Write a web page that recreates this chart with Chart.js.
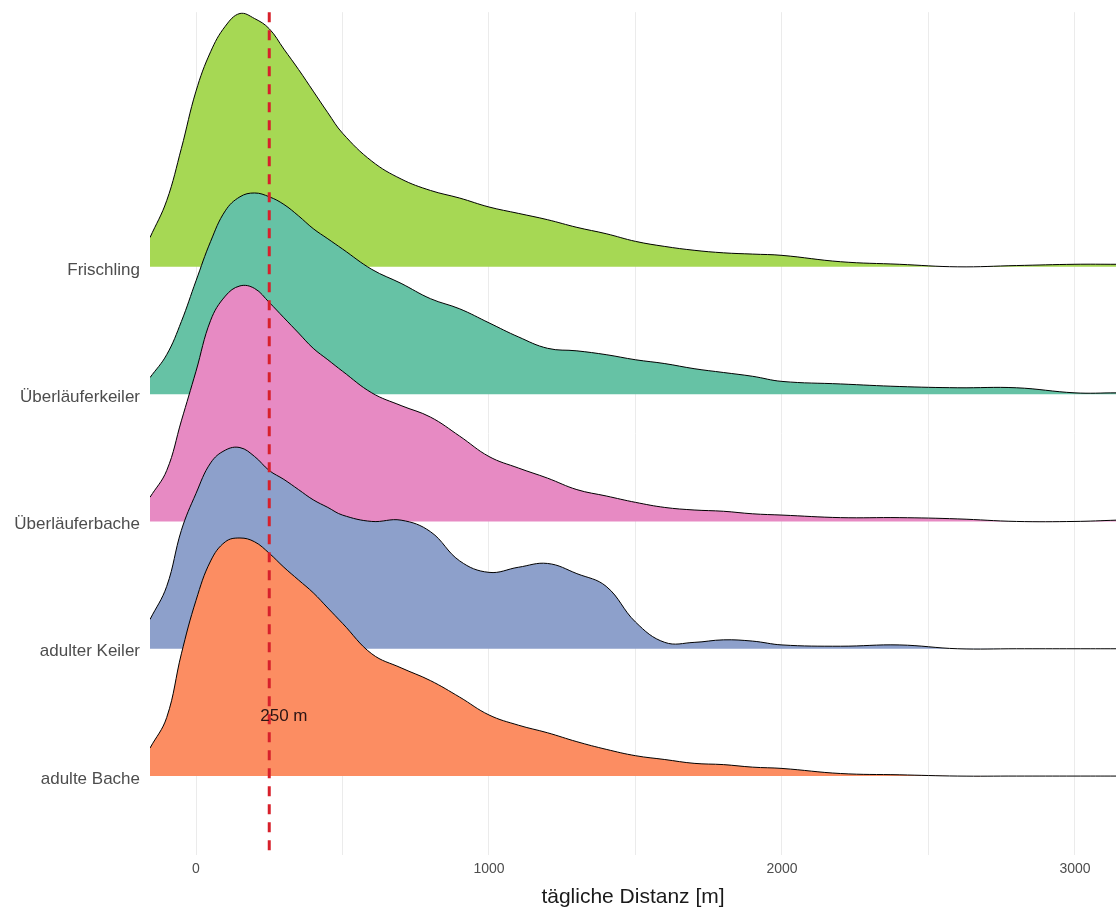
<!DOCTYPE html>
<html>
<head>
<meta charset="utf-8">
<title>tägliche Distanz</title>
<script src="https://cdn.jsdelivr.net/npm/chart.js@4.4.1/dist/chart.umd.min.js"></script>
<style>
    html, body { margin: 0; padding: 0; background: #ffffff; }
</style>
</head>
<body>
<canvas id="chart" width="1116" height="911"></canvas>
<script>
// x grid of the density estimates (m)
var distances = [-157, -100, -50, 0, 50, 100, 150, 200, 250, 300, 350, 400, 450, 500, 600, 700, 800, 900,
    1000, 1100, 1200, 1300, 1400, 1500, 1600, 1700, 1800, 1900, 2000, 2200, 2400, 2600, 2800, 3000, 3140];

// groups from the bottom row to the top row
var groups = ['adulte Bache', 'adulter Keiler', 'Überläuferbache', 'Überläuferkeiler', 'Frischling'];
var groupColors = ['#fc8d62', '#8da0cb', '#e78ac3', '#66c2a5', '#a6d854'];

// scaled densities (1 = one row height)
var densAdulteBache = [0.22, 0.46, 0.96, 1.38, 1.69, 1.84, 1.87, 1.84, 1.75, 1.64, 1.54, 1.44, 1.32, 1.20, 0.96, 0.85, 0.75, 0.62,
    0.48, 0.40, 0.34, 0.27, 0.21, 0.16, 0.13, 0.10, 0.09, 0.07, 0.06, 0.02, 0.01, 0, 0, 0, 0];
var densAdulterKeiler = [0.23, 0.49, 0.93, 1.22, 1.46, 1.56, 1.58, 1.51, 1.40, 1.33, 1.25, 1.17, 1.11, 1.05, 1.00, 1.01, 0.92, 0.69,
    0.60, 0.64, 0.67, 0.59, 0.49, 0.21, 0.05, 0.05, 0.07, 0.06, 0.03, 0.02, 0.03, 0, 0, 0, 0];
var densUeberlaeuferbache = [0.19, 0.40, 0.79, 1.18, 1.58, 1.77, 1.85, 1.83, 1.72, 1.60, 1.48, 1.36, 1.27, 1.18, 1.01, 0.91, 0.82, 0.67,
    0.51, 0.42, 0.34, 0.25, 0.20, 0.15, 0.11, 0.09, 0.08, 0.06, 0.05, 0.03, 0.03, 0.02, 0, 0, 0.01];
var densUeberlaeuferkeiler = [0.13, 0.31, 0.57, 0.89, 1.20, 1.44, 1.55, 1.58, 1.55, 1.49, 1.40, 1.30, 1.22, 1.14, 0.98, 0.87, 0.75, 0.67,
    0.56, 0.45, 0.36, 0.34, 0.31, 0.27, 0.24, 0.20, 0.17, 0.14, 0.10, 0.08, 0.06, 0.05, 0.05, 0.01, 0.01];
var densFrischling = [0.23, 0.52, 0.93, 1.38, 1.69, 1.89, 1.99, 1.95, 1.87, 1.71, 1.55, 1.38, 1.21, 1.05, 0.83, 0.69, 0.60, 0.54,
    0.47, 0.42, 0.37, 0.31, 0.26, 0.20, 0.16, 0.13, 0.11, 0.10, 0.09, 0.04, 0.02, 0, 0.01, 0.02, 0.02];

var densities = [densAdulteBache, densAdulterKeiler, densUeberlaeuferbache, densUeberlaeuferkeiler, densFrischling];

var xTickLabels = [0, 1000, 2000, 3000];
var xGridBreaks = [0, 500, 1000, 1500, 2000, 2500, 3000];

var threshold = 250;
var thresholdLabel = '250 m';

var FONT = '"Liberation Sans", Arial, sans-serif';

// each ridge sits on its own row: y = row index + density
var datasets = groups.map(function (name, row) {
    return {
        label: name,
        data: distances.map(function (d, i) {
            return { x: d, y: row + densities[row][i] };
        }),
        backgroundColor: groupColors[row],
        borderColor: '#000000',
        borderWidth: 1,
        pointRadius: 0,
        tension: 0.4,
        fill: { value: row }
    };
});

// dashed threshold line plus its label
var thresholdPlugin = {
    id: 'threshold',
    afterDatasetsDraw: function (chart) {
        var ctx = chart.ctx,
            area = chart.chartArea,
            xs = chart.scales.x,
            ys = chart.scales.y,
            px = xs.getPixelForValue(threshold);

        ctx.save();
        ctx.strokeStyle = '#d7202b';
        ctx.lineWidth = 3;
        ctx.setLineDash([10, 8]);
        ctx.beginPath();
        ctx.moveTo(px, area.top);
        ctx.lineTo(px, area.bottom);
        ctx.stroke();

        ctx.setLineDash([]);
        ctx.fillStyle = '#2a1414';
        ctx.font = '17px ' + FONT;
        ctx.textAlign = 'center';
        ctx.textBaseline = 'middle';
        ctx.fillText(thresholdLabel, xs.getPixelForValue(300), ys.getPixelForValue(0.47));
        ctx.restore();
    }
};

new Chart(document.getElementById('chart').getContext('2d'), {
    type: 'line',
    data: { datasets: datasets },
    plugins: [thresholdPlugin],
    options: {
        responsive: false,
        animation: false,
        layout: { padding: { top: 3, right: 0, bottom: 0, left: 0 } },
        plugins: {
            legend: { display: false },
            tooltip: { enabled: false }
        },
        scales: {
            x: {
                type: 'linear',
                min: -157,
                max: 3140,
                afterBuildTicks: function (scale) {
                    scale.ticks = xGridBreaks.map(function (v) { return { value: v }; });
                },
                afterFit: function (scale) { scale.height = 56; },
                ticks: {
                    color: '#4d4d4d',
                    font: { family: FONT, size: 14 },
                    padding: 6,
                    maxRotation: 0,
                    autoSkip: false,
                    callback: function (value) {
                        return xTickLabels.indexOf(value) >= 0 ? String(value) : '';
                    }
                },
                grid: { color: '#ebebeb', lineWidth: 1, drawTicks: false },
                border: { display: false },
                title: {
                    display: true,
                    text: 'tägliche Distanz [m]',
                    color: '#1a1a1a',
                    font: { family: FONT, size: 21 },
                    padding: { top: 0, bottom: 1 }
                }
            },
            y: {
                type: 'linear',
                min: -0.62,
                max: 6.0,
                afterBuildTicks: function (scale) {
                    scale.ticks = groups.map(function (g, i) { return { value: i }; });
                },
                afterFit: function (scale) { scale.width = 150; },
                ticks: {
                    color: '#4d4d4d',
                    font: { family: FONT, size: 17 },
                    padding: 2,
                    labelOffset: 3,
                    autoSkip: false,
                    callback: function (value, index) {
                        return groups[index];
                    }
                },
                grid: { display: false },
                border: { display: false }
            }
        }
    }
});
</script>
</body>
</html>
